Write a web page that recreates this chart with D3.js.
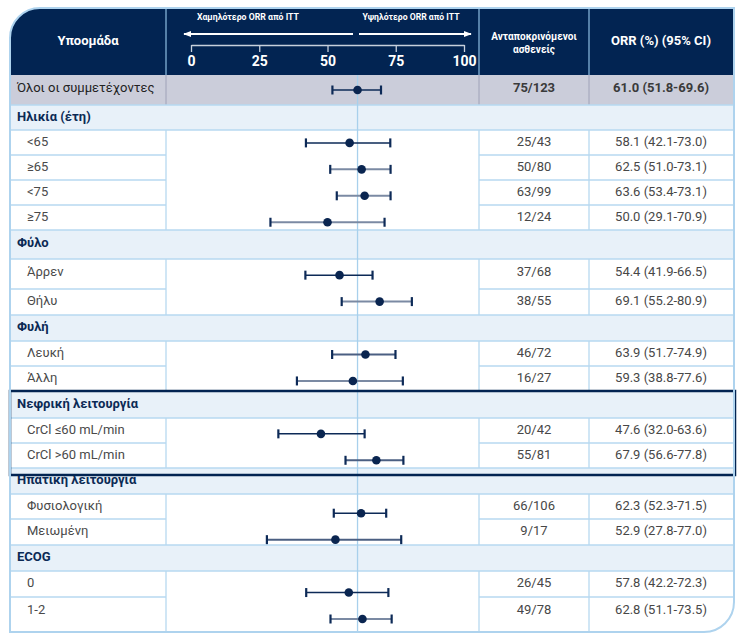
<!DOCTYPE html>
<html>
<head>
<meta charset="utf-8">
<script src="https://cdn.jsdelivr.net/npm/d3@7"></script>
<style>
  body { margin: 0; background: #fff; }
  text { font-family: Roboto, "Noto Sans", sans-serif; }
</style>
</head>
<body>
<div id="chart"></div>
<script>
// table rows, top to bottom
var rowLabels = ["Όλοι οι συμμετέχοντες", "Ηλικία (έτη)", "<65", "≥65", "<75", "≥75",
  "Φύλο", "Άρρεν", "Θήλυ", "Φυλή", "Λευκή", "Άλλη",
  "Νεφρική λειτουργία", "CrCl ≤60 mL/min", "CrCl >60 mL/min",
  "Ηπατική λειτουργία", "Φυσιολογική", "Μειωμένη", "ECOG", "0", "1-2"];
var rowKind = ["all", "group", "sub", "sub", "sub", "sub",
  "group", "sub", "sub", "group", "sub", "sub",
  "group", "sub", "sub", "group", "sub", "sub", "group", "sub", "sub"];
var responders = ["75/123", null, "25/43", "50/80", "63/99", "12/24",
  null, "37/68", "38/55", null, "46/72", "16/27",
  null, "20/42", "55/81", null, "66/106", "9/17", null, "26/45", "49/78"];
var orr = [61.0, null, 58.1, 62.5, 63.6, 50.0,
  null, 54.4, 69.1, null, 63.9, 59.3,
  null, 47.6, 67.9, null, 62.3, 52.9, null, 57.8, 62.8];
var ciLow = [51.8, null, 42.1, 51.0, 53.4, 29.1,
  null, 41.9, 55.2, null, 51.7, 38.8,
  null, 32.0, 56.6, null, 52.3, 27.8, null, 42.2, 51.1];
var ciHigh = [69.6, null, 73.0, 73.1, 73.1, 70.9,
  null, 66.5, 80.9, null, 74.9, 77.6,
  null, 63.6, 77.8, null, 71.5, 77.0, null, 72.3, 73.5];
var axisTicks = [0, 25, 50, 75, 100];
var ittOrr = 61.0;

// layout
var W = 752, H = 644;
var cardL = 10, cardR = 734, cardT = 8, headH = 67;
var colPlot = 166, colN = 479, colOrr = 589;
var rowH = [30, 25, 25, 25, 25, 25, 29, 30, 26, 26, 25, 25, 27, 25, 25, 26, 25, 26, 26, 26, 35];
// line tone per row (antialiased thin vs wide strokes in the source)
var ciTone = ["d", null, "d", "g", "g", "g", null, "d", "g", null, "m", "g",
  null, "d", "m", null, "d", "m", null, "d", "g"];
var toneColor = { d: "#0d2a57", m: "#4b5f82", g: "#7b8aa3" };

var navy = "#022452", lineBlue = "#b7d9f0", groupBg = "#e8f1f9", allBg = "#cbcdda";

var rowY = [];
var acc = cardT + headH;
rowH.forEach(function(h) { rowY.push(acc); acc += h; });
var cardB = acc;

var svg = d3.select("#chart").append("svg")
  .attr("width", W).attr("height", H);

var x = d3.scaleLinear().domain([0, 100]).range([191, 464]);
var yMark = d3.scaleLinear().domain([0, rowLabels.length - 1]).range([90, 619]);

var r = 30;
var cardPath = "M" + cardL + "," + (cardT + r) + " A" + r + "," + r + " 0 0 1 " + (cardL + r) + "," + cardT +
    " L" + cardR + "," + cardT + " L" + cardR + "," + (cardB - r) +
    " A" + r + "," + r + " 0 0 1 " + (cardR - r) + "," + cardB +
    " L" + cardL + "," + cardB + " Z";
svg.append("path").attr("d", cardPath).attr("fill", "#fff");

// header
svg.append("path")
  .attr("d", "M" + cardL + "," + (cardT + headH) + " L" + cardL + "," + (cardT + r) +
    " A" + r + "," + r + " 0 0 1 " + (cardL + r) + "," + cardT +
    " L" + cardR + "," + cardT + " L" + cardR + "," + (cardT + headH) + " Z")
  .attr("fill", navy);

[colPlot, colN, colOrr].forEach(function(cx) {
  svg.append("line").attr("x1", cx).attr("x2", cx)
    .attr("y1", cardT).attr("y2", cardT + headH)
    .attr("stroke", "#8fbfe3").attr("stroke-width", 1.2);
});

svg.append("text").attr("x", 88).attr("y", 42).attr("text-anchor", "middle")
  .attr("dominant-baseline", "middle").attr("fill", "#fff")
  .attr("font-size", 13).attr("font-weight", "bold").text("Υποομάδα");
svg.append("text").attr("x", 661).attr("y", 42).attr("text-anchor", "middle")
  .attr("dominant-baseline", "middle").attr("fill", "#fff")
  .attr("font-size", 13).attr("font-weight", "bold").text("ORR (%) (95% CI)");
svg.append("text").attr("x", 534).attr("y", 37).attr("text-anchor", "middle")
  .attr("dominant-baseline", "middle").attr("fill", "#fff")
  .attr("font-size", 10).attr("font-weight", "bold").text("Ανταποκρινόμενοι");
svg.append("text").attr("x", 534).attr("y", 50).attr("text-anchor", "middle")
  .attr("dominant-baseline", "middle").attr("fill", "#fff")
  .attr("font-size", 10).attr("font-weight", "bold").text("ασθενείς");

// direction arrows
var defs = svg.append("defs");
defs.append("marker").attr("id", "ah").attr("viewBox", "0 0 10 10")
  .attr("refX", 9).attr("refY", 5).attr("markerWidth", 4).attr("markerHeight", 4)
  .attr("orient", "auto-start-reverse")
  .append("path").attr("d", "M0,1 L10,5 L0,9 Z").attr("fill", "#fff");

svg.append("line").attr("x1", 353).attr("x2", 184).attr("y1", 34).attr("y2", 34)
  .attr("stroke", "#fff").attr("stroke-width", 2).attr("marker-end", "url(#ah)");
svg.append("line").attr("x1", 359).attr("x2", 471).attr("y1", 34).attr("y2", 34)
  .attr("stroke", "#fff").attr("stroke-width", 2).attr("marker-end", "url(#ah)");
svg.append("text").attr("x", 248).attr("y", 17).attr("text-anchor", "middle")
  .attr("dominant-baseline", "middle").attr("fill", "#fff").attr("font-size", 9.5)
  .attr("font-weight", "bold").attr("textLength", 102).attr("lengthAdjust", "spacingAndGlyphs")
  .text("Χαμηλότερο ORR από ITT");
svg.append("text").attr("x", 411).attr("y", 17).attr("text-anchor", "middle")
  .attr("dominant-baseline", "middle").attr("fill", "#fff").attr("font-size", 9.5)
  .attr("font-weight", "bold").attr("textLength", 97).attr("lengthAdjust", "spacingAndGlyphs")
  .text("Υψηλότερο ORR από ITT");

// axis
var axisG = svg.append("g").attr("transform", "translate(0,45)")
  .call(d3.axisBottom(x).tickValues(axisTicks).tickSize(7).tickSizeOuter(0).tickPadding(4));
axisG.select(".domain").attr("stroke", "#c7d0dc").attr("stroke-width", 1.3);
axisG.selectAll(".tick line").attr("stroke", "#c7d0dc").attr("stroke-width", 1.3);
axisG.selectAll(".tick text").attr("fill", "#fff").attr("font-size", 14)
  .attr("font-weight", "bold").attr("font-family", "Roboto, sans-serif");

// row backgrounds
rowLabels.forEach(function(lab, i) {
  var k = rowKind[i];
  if (k === "all" || k === "group") {
    svg.append("rect").attr("x", cardL).attr("y", rowY[i]).attr("width", cardR - cardL)
      .attr("height", rowH[i]).attr("fill", k === "all" ? allBg : groupBg);
  }
});

// grid lines
rowLabels.forEach(function(lab, i) {
  var k = rowKind[i], y0 = rowY[i], y1 = y0 + rowH[i];
  if (k === "group") {
    [y0, y1].forEach(function(yy) {
      svg.append("line").attr("x1", cardL).attr("x2", cardR).attr("y1", yy).attr("y2", yy)
        .attr("stroke", lineBlue).attr("stroke-width", 1.5);
    });
  } else {
    var vcol = k === "all" ? "#a9acc0" : lineBlue;
    [colPlot, colN, colOrr].forEach(function(cx) {
      svg.append("line").attr("x1", cx).attr("x2", cx).attr("y1", y0).attr("y2", y1)
        .attr("stroke", vcol).attr("stroke-width", 1.3);
    });
    if (k === "sub" && i < rowLabels.length - 1 && rowKind[i + 1] === "sub") {
      [[cardL, colPlot], [colN, cardR]].forEach(function(seg) {
        svg.append("line").attr("x1", seg[0]).attr("x2", seg[1]).attr("y1", y1).attr("y2", y1)
          .attr("stroke", lineBlue).attr("stroke-width", 1.5);
      });
    }
  }
});

// ITT reference line
svg.append("line").attr("x1", x(ittOrr)).attr("x2", x(ittOrr))
  .attr("y1", cardT + headH).attr("y2", cardB)
  .attr("stroke", "#a8d0ec").attr("stroke-width", 1.3);

// forest marks
var idx = d3.range(rowLabels.length).filter(function(i) { return orr[i] != null; });
var marks = svg.append("g").selectAll("g").data(idx).enter().append("g");
marks.append("line")
  .attr("x1", function(i) { return x(ciLow[i]); })
  .attr("x2", function(i) { return x(ciHigh[i]); })
  .attr("y1", function(i) { return yMark(i); })
  .attr("y2", function(i) { return yMark(i); })
  .attr("stroke", function(i) { return toneColor[ciTone[i]]; })
  .attr("stroke-width", function(i) { return ciTone[i] === "d" ? 1.5 : 2; });
[ciLow, ciHigh].forEach(function(arr) {
  marks.append("line")
    .attr("x1", function(i) { return x(arr[i]); })
    .attr("x2", function(i) { return x(arr[i]); })
    .attr("y1", function(i) { return yMark(i) - 4.5; })
    .attr("y2", function(i) { return yMark(i) + 4.5; })
    .attr("stroke", "#0d2a57").attr("stroke-width", 2.2);
});
marks.append("circle")
  .attr("cx", function(i) { return x(orr[i]); })
  .attr("cy", function(i) { return yMark(i); })
  .attr("r", 4.3).attr("fill", "#0a2550");

// row texts
rowLabels.forEach(function(lab, i) {
  var k = rowKind[i];
  var ty = rowY[i] + Math.min(rowH[i] / 2, 13.5);
  var t = svg.append("text").attr("y", ty).attr("dominant-baseline", "middle")
    .attr("font-size", 13).text(lab);
  if (k === "group") {
    t.attr("x", 17).attr("font-weight", "bold").attr("fill", "#0b2a55");
  } else if (k === "all") {
    t.attr("x", 17).attr("fill", "#222");
  } else {
    t.attr("x", 27).attr("fill", "#4a4a4a");
  }
  if (responders[i] != null) {
    var bold = k === "all" ? "bold" : "normal";
    var col = k === "all" ? "#3a3a3a" : "#474747";
    svg.append("text").attr("x", 534).attr("y", ty).attr("text-anchor", "middle")
      .attr("dominant-baseline", "middle").attr("font-size", 13)
      .attr("font-weight", bold).attr("fill", col).text(responders[i]);
    svg.append("text").attr("x", 661).attr("y", ty).attr("text-anchor", "middle")
      .attr("dominant-baseline", "middle").attr("font-size", 13)
      .attr("font-weight", bold).attr("fill", col)
      .text(orr[i].toFixed(1) + " (" + ciLow[i].toFixed(1) + "-" + ciHigh[i].toFixed(1) + ")");
  }
});

// highlighted renal section box
var boxRow = rowLabels.indexOf("Νεφρική λειτουργία");
svg.append("rect").attr("x", cardL).attr("y", rowY[boxRow])
  .attr("width", cardR - cardL + 1).attr("height", rowY[boxRow + 3] - rowY[boxRow] + 7)
  .attr("fill", "none").attr("stroke", navy).attr("stroke-width", 2.5);

// card outline
svg.append("path").attr("d", cardPath)
  .attr("fill", "none").attr("stroke", "#aed3ee").attr("stroke-width", 2);
</script>
</body>
</html>
